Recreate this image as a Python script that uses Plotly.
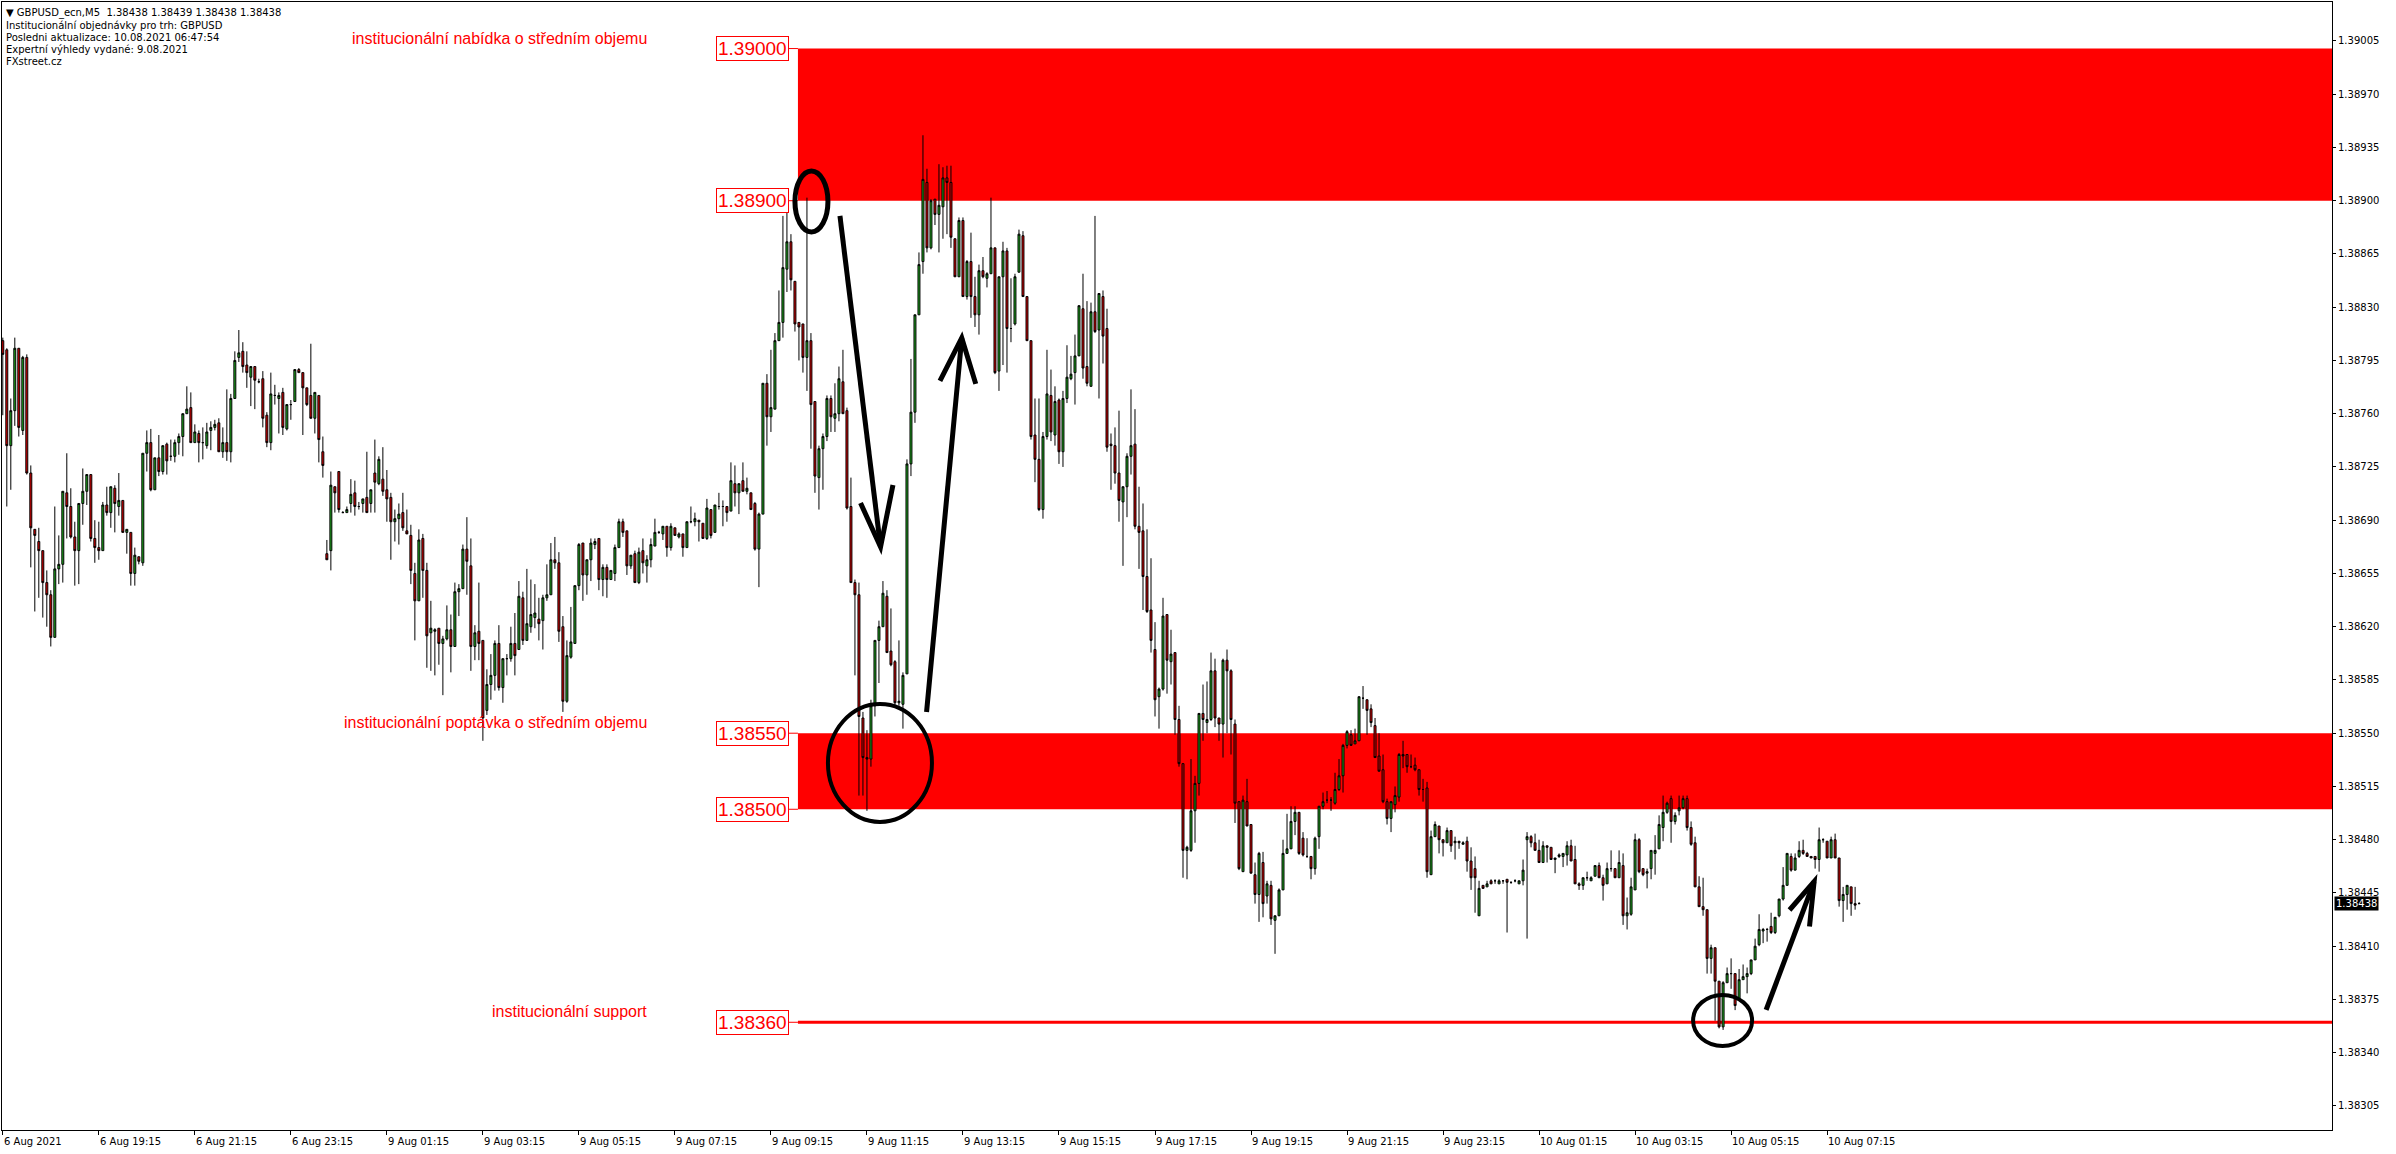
import plotly.graph_objects as go

# ---------------- data (prices in points above 1.38000, 5-digit quotes) ----------------
open_pts = [
    808,802,739,762,803,749,797,721,684,676, 670,649,641,613,658,661,708,699,679,670,
    701,709,720,678,672,670,700,695,711,699, 703,682,682,655,666,662,734,741,710,731,
    722,740,732,732,741,745,760,764,741,747, 741,739,749,751,754,735,741,735,770,797,
    801,792,784,791,781,783,759,741,772,770, 774,750,766,768,789,787,777,772,757,772,
    735,668,670,712,722,695,695,701,708,699, 701,705,701,721,714,717,710,705,689,691,
    695,683,680,655,637,678,657,616,617,619, 609,612,618,607,643,645,671,660,607,617,
    611,565,582,588,609,580,599,599,609,605, 639,611,620,626,625,624,639,641,664,662,
    620,571,600,609,647,675,654,664,674,678, 651,659,651,655,672,689,683,660,668,649,
    670,660,664,673,682,681,686,672,685,679, 681,672,689,689,690,688,678,697,682,699,
    699,699,696,714,708,716,709,708,701,671, 694,780,758,763,808,820,855,873,847,820,
    819,797,808,768,718,737,745,770,757,760, 781,762,699,649,641,560,534,533,568,611,
    620,640,604,597,570,569,589,727,761,825, 860,912,869,901,891,896,915,912,875,850,
    887,837,860,837,825,854,849,852,869,788, 850,867,816,819,853,877,837,808,746,730,
    697,745,772,746,769,735,770,783,787,798, 829,791,778,827,815,837,816,740,739,721,
    702,712,732,740,686,683,653,631,605,574, 579,628,597,603,559,530,473,473,499,517,
    563,557,559,591,560,556,598,591,556,505, 459,505,490,457,444,465,443,450,427,430,
    447,471,474,492,498,481,469,469,461,482, 502,506,506,504,513,522,542,549,543,545,
    573,572,566,555,535,526,505,494,503,508, 536,536,528,529,526,513,514,457,482,489,
    480,478,486,478,479,477,479,466,461,430, 450,449,453,453,451,453,454,452,453,451,
    453,480,482,478,473,465,476,475,467,469, 469,470,476,467,451,450,455,453,456,463,
    455,451,461,461,455,463,430,431,447,480, 461,458,461,471,474,488,498,507,492,499,
    501,507,488,478,449,436,434,402,409,387, 357,386,392,392,375,388,390,392,401,411,
    420,421,423,419,430,441,450,469,460,469, 473,471,469,469,467,480,479,468,480,468,
    440,444,449,438,438,
]
high_pts = [
    810,803,770,810,803,798,799,726,684,685, 670,657,644,699,680,709,734,711,689,701,
    724,720,720,690,689,702,712,712,713,721, 703,684,682,672,666,734,749,750,731,746,
    739,741,743,743,747,760,778,774,753,749, 751,754,755,756,757,751,776,773,801,815,
    807,801,791,791,783,788,761,787,779,774, 777,766,769,789,790,787,777,806,774,772,
    745,677,722,712,722,696,699,717,716,702, 704,735,710,743,732,738,723,708,697,701,
    708,697,687,662,684,681,662,637,619,619, 614,634,628,649,648,674,692,678,621,649,
    611,592,602,611,621,599,602,620,629,650, 643,658,651,648,639,641,661,675,679,669,
    627,611,633,647,675,675,664,678,678,678, 661,661,657,674,691,691,683,667,670,672,
    678,667,678,691,683,686,686,688,685,682, 681,689,699,695,690,688,704,697,700,708,
    703,699,728,726,714,728,718,708,702,695, 780,786,802,813,841,890,892,878,847,820,
    819,902,813,768,739,747,772,772,780,791, 802,764,718,651,649,564,552,572,611,624,
    650,644,632,598,611,590,730,796,825,866, 943,921,901,901,924,922,923,923,875,889,
    889,861,879,850,858,863,853,902,869,850, 873,869,849,852,881,880,837,808,770,770,
    748,802,789,778,770,775,805,798,812,831, 852,834,833,890,839,841,829,747,751,762,
    712,734,776,763,712,701,684,665,623,580, 639,628,618,603,568,530,476,533,522,563,
    582,584,603,599,560,599,605,592,559,505, 509,520,490,465,472,472,453,453,430,448,
    480,497,502,502,498,485,481,469,482,502, 511,512,508,524,533,543,552,552,553,574,
    581,572,569,560,550,536,507,505,515,537, 545,536,536,534,526,520,518,486,492,489,
    480,488,486,482,479,479,482,475,469,453, 450,453,454,454,454,453,454,452,454,453,
    467,485,483,484,480,479,476,475,468,471, 471,479,480,476,452,455,459,456,463,465,
    457,465,473,461,473,471,442,455,484,481, 461,461,473,483,496,509,505,509,498,509,
    509,509,492,482,456,455,434,411,409,387, 387,396,402,392,395,398,396,401,415,431,
    422,422,432,429,441,462,471,471,471,479, 480,472,469,469,488,481,479,482,484,468,
    449,450,449,449,439,
]
low_pts = [
    759,699,710,752,745,746,720,659,630,639, 626,620,607,613,648,649,678,678,647,648,
    687,700,676,662,664,670,693,685,682,693, 682,668,647,647,661,660,722,709,710,719,
    720,720,729,728,733,732,760,741,741,728, 730,737,736,749,735,731,729,728,770,794,
    787,777,765,763,780,751,738,736,766,747, 746,749,756,768,787,746,765,757,747,728,
    718,664,657,695,695,695,695,695,693,697, 695,695,695,695,713,706,689,664,676,674,
    683,681,648,611,637,639,593,591,588,595, 575,611,590,607,627,645,641,591,598,598,
    545,562,572,578,578,570,588,597,588,605, 608,611,616,619,611,605,637,641,658,610,
    564,570,599,609,644,637,641,650,671,644, 640,639,651,650,672,679,654,658,649,648,
    655,649,659,673,681,677,666,670,680,678, 666,672,688,686,676,678,677,678,682,697,
    686,689,696,699,694,709,707,697,670,646, 694,739,748,763,808,810,840,841,814,795,
    787,775,737,708,697,710,742,748,748,755, 760,697,649,588,509,509,499,528,561,583,
    620,603,594,568,568,553,589,719,754,825, 852,866,868,884,866,875,878,869,850,850,
    837,835,823,817,812,849,843,852,786,775, 792,787,807,818,853,837,808,743,715,696,
    691,743,742,739,727,725,767,782,766,798, 783,778,778,813,770,793,735,710,714,689,
    660,692,720,684,658,631,629,603,561,553, 578,576,582,549,528,455,454,472,478,509,
    545,550,558,554,545,534,550,536,491,460, 459,489,458,438,426,429,438,424,405,430,
    447,471,474,483,470,469,468,454,457,474, 500,504,499,503,512,511,540,542,543,545,
    566,549,554,534,525,504,490,485,498,505, 527,524,527,525,509,505,455,457,482,471,
    469,478,472,467,474,477,459,447,432,430, 448,449,451,451,451,451,419,451,452,451,
    450,415,475,473,465,465,465,467,458,468, 462,463,466,451,447,447,453,453,456,455,
    440,451,459,455,455,424,421,430,447,458, 456,448,454,457,474,479,497,478,490,496,
    500,486,476,449,436,430,392,392,361,356, 355,386,382,368,374,388,379,391,401,410,
    412,413,418,418,429,440,450,459,460,468, 470,469,468,461,459,478,468,468,468,436,
    426,434,430,434,438,
]
close_pts = [
    799,739,762,803,751,797,721,685,680,670, 649,641,613,658,661,709,699,679,670,701,
    709,720,678,672,670,700,695,712,701,703, 682,684,655,667,663,734,741,710,731,722,
    739,729,732,741,745,760,763,741,748,741, 741,748,751,753,735,741,735,770,795,800,
    791,787,791,782,781,757,741,773,772,772, 751,766,766,789,787,777,766,757,774,743,
    726,664,713,708,697,695,697,707,699,699, 704,695,710,715,730,709,704,689,691,694,
    685,681,657,637,677,657,614,619,618,609, 612,618,607,643,645,671,663,607,616,609,
    560,582,588,609,580,599,599,609,601,640, 611,622,628,629,622,639,641,664,662,617,
    571,601,610,647,674,654,664,675,676,651, 659,651,657,672,689,682,660,667,649,669,
    662,664,674,682,682,686,672,686,680,681, 672,689,689,691,689,678,698,680,700,699,
    699,695,716,708,714,709,711,697,671,694, 780,758,764,808,820,856,873,848,819,817,
    797,808,766,719,737,745,770,758,760,783, 760,698,649,641,561,534,533,568,611,620,
    642,603,595,570,571,588,727,761,825,858, 914,869,900,891,897,915,912,876,850,887,
    837,860,837,825,854,850,852,869,787,850, 867,816,816,850,878,837,808,745,730,697,
    745,773,748,768,735,770,784,786,798,831, 790,780,827,814,839,811,738,739,721,703,
    712,732,739,686,682,653,630,611,572,579, 627,598,602,559,530,473,475,499,517,563,
    559,559,591,560,556,598,591,559,504,461, 506,489,458,444,471,438,451,428,430,447,
    471,474,492,498,471,470,469,461,481,502, 505,506,506,513,522,542,551,542,545,574,
    573,565,557,534,525,505,494,505,509,536, 535,528,528,526,513,513,459,482,490,480,
    478,486,476,479,478,478,466,455,455,448, 448,451,451,453,453,453,452,452,453,453,
    460,482,478,473,465,476,475,467,468,470, 471,476,466,451,450,455,455,455,463,455,
    450,461,461,455,465,430,432,449,480,459, 457,459,473,473,490,498,504,492,496,501,
    507,488,477,449,436,434,402,409,387,357, 386,392,392,371,388,390,392,401,410,421,
    421,421,419,429,441,450,471,460,468,473, 471,469,468,467,480,480,468,480,468,440,
    444,450,438,437,438,
]

x_tick_bars = [0, 24, 48, 72, 96, 120, 144, 168, 192, 216, 240, 264, 288, 312, 336, 360, 384, 408, 432, 456]
x_tick_labels = ["6 Aug 2021", "6 Aug 19:15", "6 Aug 21:15", "6 Aug 23:15", "9 Aug 01:15", "9 Aug 03:15",
                 "9 Aug 05:15", "9 Aug 07:15", "9 Aug 09:15", "9 Aug 11:15", "9 Aug 13:15", "9 Aug 15:15",
                 "9 Aug 17:15", "9 Aug 19:15", "9 Aug 21:15", "9 Aug 23:15", "10 Aug 01:15", "10 Aug 03:15",
                 "10 Aug 05:15", "10 Aug 07:15"]
y_tick_labels = ["1.38305", "1.38340", "1.38375", "1.38410", "1.38445", "1.38480", "1.38515", "1.38550",
                 "1.38585", "1.38620", "1.38655", "1.38690", "1.38725", "1.38760", "1.38795", "1.38830",
                 "1.38865", "1.38900", "1.38935", "1.38970", "1.39005"]

supply_zone = (1.38900, 1.39000)
demand_zone = (1.38500, 1.38550)
support_level = 1.38360
level_labels = ["1.39000", "1.38900", "1.38550", "1.38500", "1.38360"]
zone_start_bar = 198.75
last_price = "1.38438"

header_lines = [
    "\u25bc GBPUSD_ecn,M5\u00a0\u00a01.38438 1.38439 1.38438 1.38438",
    "Institucionální objednávky pro trh: GBPUSD",
    "Posledni aktualizace: 10.08.2021 06:47:54",
    "Expertní výhledy vydané: 9.08.2021",
    "FXstreet.cz",
]
zone_texts = [
    ("institucionální nabídka o středním objemu", 1.39000),
    ("institucionální poptávka o středním objemu", 1.38550),
    ("institucionální support", 1.38360),
]

# ---------------- build ----------------
def to_price(v):
    return round(1.38 + v / 1e5, 5)

opens = [to_price(v) for v in open_pts]
highs = [to_price(v) for v in high_pts]
lows = [to_price(v) for v in low_pts]
closes = [to_price(v) for v in close_pts]
bars = list(range(len(opens)))

X_MIN, X_MAX = -0.2, 582.2
Y_MIN, Y_MAX = 1.382892, 1.390306

fig = go.Figure(go.Candlestick(
    x=bars, open=opens, high=highs, low=lows, close=closes,
    increasing=dict(fillcolor="#1fb01f", line=dict(color="black", width=1)),
    decreasing=dict(fillcolor="#e00000", line=dict(color="black", width=1)),
    whiskerwidth=0, hoverinfo="skip", showlegend=False,
))

shapes = []
for lo, hi in (supply_zone, demand_zone):
    shapes.append(dict(type="rect", xref="x", yref="y", x0=zone_start_bar, x1=X_MAX, y0=lo, y1=hi,
                       fillcolor="#ff0000", line=dict(width=0), layer="below"))
shapes.append(dict(type="line", xref="x", yref="y", x0=zone_start_bar, x1=X_MAX,
                   y0=support_level, y1=support_level, line=dict(color="#ff0000", width=3), layer="below"))

annotations = []
for lab in level_labels:
    lvl = float(lab)
    shapes.append(dict(type="line", xref="x", yref="y", x0=196.5, x1=zone_start_bar, y0=lvl, y1=lvl,
                       line=dict(color="#ff0000", width=1)))
    annotations.append(dict(x=196.5, y=lvl, xref="x", yref="y", xanchor="right", yanchor="middle",
                            text=lab, showarrow=False,
                            font=dict(family="Liberation Sans, Arial", size=19, color="#ff0000"),
                            bgcolor="white", bordercolor="#ff0000", borderwidth=1, borderpad=1))

for txt, lvl in zone_texts:
    annotations.append(dict(x=161.5, y=lvl, xref="x", yref="y", xanchor="right", yanchor="bottom",
                            text=txt, showarrow=False, yshift=0,
                            font=dict(family="Liberation Sans, Arial", size=16, color="#ff0000")))

# hand-drawn annotations (ellipses and arrows), in bar / price units
ell = dict(color="black", width=5)
shapes.append(dict(type="circle", xref="x", yref="y", x0=198.0, x1=206.25, y0=1.388795, y1=1.389196, line=ell))
shapes.append(dict(type="circle", xref="x", yref="y", x0=206.25, x1=232.25, y0=1.384917, y1=1.385692,
                   line=dict(color="black", width=4)))
shapes.append(dict(type="circle", xref="x", yref="y", x0=422.5, x1=437.25, y0=1.383444, y1=1.383780,
                   line=dict(color="black", width=4)))

arrows = [
    ((209.25, 1.388900), (219.4, 1.386724), (214.4, 1.387013), (222.5, 1.387132)),
    ((230.9, 1.385640), (239.7, 1.388098), (234.25, 1.387815), (243.2, 1.387796)),
    ((440.75, 1.383681), (452.75, 1.384524), (446.6, 1.384338), (451.6, 1.384229)),
]
for start, tip, hl, hr in arrows:
    shapes.append(dict(type="line", xref="x", yref="y", x0=start[0], y0=start[1], x1=tip[0], y1=tip[1],
                       line=dict(color="black", width=5)))
    shapes.append(dict(type="path", xref="x", yref="y",
                       path=f"M {hl[0]},{hl[1]} L {tip[0]},{tip[1]} L {hr[0]},{hr[1]}",
                       line=dict(color="black", width=5)))

# x tick labels (left aligned, MetaTrader style)
for b, lab in zip(x_tick_bars, x_tick_labels):
    annotations.append(dict(x=b, y=0, xref="x", yref="paper", xanchor="left", yanchor="top",
                            text=lab, showarrow=False, xshift=-1, yshift=-4,
                            font=dict(family="DejaVu Sans", size=10, color="black")))

# header text
for i, line in enumerate(header_lines):
    annotations.append(dict(x=0, y=1, xref="paper", yref="paper", xanchor="left", yanchor="middle",
                            text=line, showarrow=False, xshift=2, yshift=-(11 + 12.2 * i),
                            font=dict(family="DejaVu Sans", size=10, color="black")))

# current price tag
annotations.append(dict(x=1, y=float(last_price), xref="paper", yref="y", xanchor="left", yanchor="middle",
                        text=last_price, showarrow=False, xshift=2, bgcolor="black", borderpad=1,
                        font=dict(family="DejaVu Sans", size=10, color="white")))

fig.update_layout(
    width=2396, height=1154,
    margin=dict(l=2, r=64, t=2, b=24, pad=0),
    paper_bgcolor="white", plot_bgcolor="white",
    showlegend=False,
    shapes=shapes, annotations=annotations,
    xaxis=dict(range=[X_MIN, X_MAX], showgrid=False, zeroline=False, rangeslider=dict(visible=False),
               showline=True, mirror=True, linecolor="black", linewidth=1,
               ticks="outside", ticklen=4, tickcolor="black", tickvals=x_tick_bars, showticklabels=False),
    yaxis=dict(range=[Y_MIN, Y_MAX], side="right", showgrid=False, zeroline=False,
               showline=True, mirror=True, linecolor="black", linewidth=1,
               ticks="outside", ticklen=3, tickcolor="black",
               tickvals=[float(s) for s in y_tick_labels], ticktext=y_tick_labels,
               tickfont=dict(family="DejaVu Sans", size=10, color="black")),
)

fig.write_html("out.html", include_plotlyjs=True, config={"displayModeBar": False},
               post_script="document.body.style.margin='0';document.body.style.overflow='hidden';")
